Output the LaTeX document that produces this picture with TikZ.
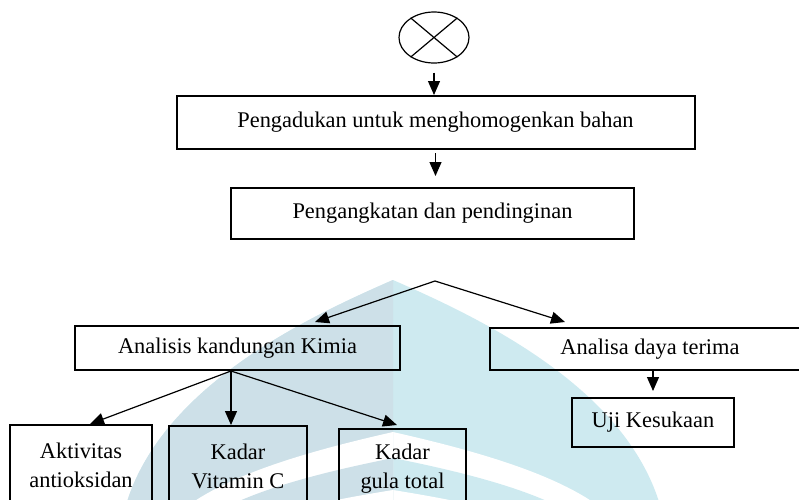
\documentclass[tikz,border=0pt]{standalone}
\usepackage{fontspec}
\setmainfont{Liberation Serif}
\usetikzlibrary{arrows.meta,shapes.geometric,calc}

\definecolor{wmcyan}{RGB}{206,234,240}
\definecolor{wmgray}{RGB}{205,224,232}

\tikzset{
  % pointed arch: apex height, half width, base height
  ogive/.style n args={3}{insert path={
    ({393-#2},#3) .. controls ({393-#2},{#1+0.45*(#3-#1)}) and ({393-0.35*#2},{#1+0.15*(#3-#1)}) .. (393,#1)
    .. controls ({393+0.35*#2},{#1+0.15*(#3-#1)}) and ({393+#2},{#1+0.45*(#3-#1)}) .. ({393+#2},#3) -- cycle}},
  box/.style={draw, line width=1pt, rectangle, inner sep=0pt, align=center,
    font=\fontsize{11.2}{14.5}\selectfont},
  arr/.style={-{Triangle[length=7pt,width=6pt]}, line width=0.6pt},
}

\begin{document}
\begin{tikzpicture}[x=0.5pt, y=-0.5pt]
\useasboundingbox (0,0) rectangle (799,499);
\clip (0,0) rectangle (799,499);
\fill[white] (0,0) rectangle (799,499);

% background emblem: nested arches
\foreach \col/\cx in {wmcyan/799, wmgray/393}{
  \begin{scope}
    \clip (0,0) rectangle (\cx,499);
    \fill[\col,   ogive={280}{275}{560}];
    \fill[white,  ogive={432}{240}{560}];
    \fill[\col,   ogive={458}{215}{560}];
    \fill[white,  ogive={490}{185}{560}];
  \end{scope}
}

% process steps
\node[ellipse, draw, line width=0.6pt, minimum width=35pt, minimum height=25.5pt, inner sep=0pt] (e) at (434,37.5) {};
\draw[line width=0.6pt] (e.140) -- (e.-40) (e.40) -- (e.-140);

\node[box, minimum width=259pt, minimum height=26.5pt] (b1) at (435.5,122.5) {Pengadukan untuk menghomogenkan bahan};
\node[box, minimum width=201.5pt, minimum height=25.5pt] (b2) at (432.5,213.5) {Pengangkatan dan pendinginan};
\coordinate (j) at (435,281);

\node[box, minimum width=162.5pt, minimum height=22pt] (b3) at (237.5,348) {Analisis kandungan Kimia};
\node[box, minimum width=160pt, minimum height=21pt] (b4) at (650,349) {Analisa daya terima};
\node[box, minimum width=81pt, minimum height=24.5pt] (b5) at (653,422.5) {Uji Kesukaan};

\node[box, minimum width=71pt, minimum height=40pt] (b6) at (81,465) {Aktivitas\\antioksidan};
\node[box, minimum width=69pt, minimum height=40pt] (b7) at (238,466) {Kadar\\Vitamin C};
\node[box, minimum width=63.5pt, minimum height=40pt] (b8) at (402.5,469) {Kadar\\gula total};

% connectors
\draw[arr, shorten <=4.5pt] (e.south) -- (e.south |- b1.north);
\draw[arr, shorten <=1.5pt, shorten >=5.5pt] (b1.south) -- (b1.south |- b2.north);
\draw[arr] (j) -- ([xshift=38.75pt,yshift=1.5pt]b3.north);
\draw[arr] (j) -- ([xshift=-42.5pt,yshift=2.5pt]b4.north);
\coordinate (s3) at ([xshift=-3.25pt]b3.south);
\draw[arr] (s3) -- ([xshift=4.5pt]b6.north);
\draw[arr] (s3) -- ([xshift=-3.5pt]b7.north);
\draw[arr] (s3) -- ([xshift=-2.75pt,yshift=1.5pt]b8.north);
\draw[arr] (b5.north |- b4.south) -- ([yshift=3pt]b5.north);
\end{tikzpicture}
\end{document}
